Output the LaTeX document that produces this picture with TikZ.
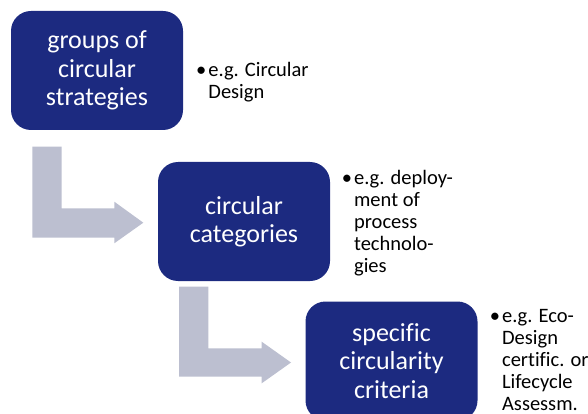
\documentclass[tikz,border=0pt]{standalone}
\usepackage{fontspec}
\setmainfont{Carlito}[Ligatures=CommonOff]
\definecolor{boxblue}{RGB}{28,42,128}
\definecolor{arrowgray}{RGB}{188,191,208}
\tikzset{
  stagebox/.style={draw=none, fill=boxblue, rounded corners=20pt, minimum width=172pt, minimum height=119pt, inner sep=0pt, text=white, align=center, font=\fontsize{26}{28.3}\selectfont},
  notetext/.style={anchor=base west, inner sep=0pt, font=\fontsize{20.5}{22}\selectfont},
  bentarrow/.style={fill=arrowgray, draw=none}
}
\begin{document}
\begin{tikzpicture}[x=1pt,y=-1pt]
\useasboundingbox (0,0) rectangle (588,414);
% bent arrows
\fill[bentarrow] (32.3,146.7) -- (61.7,146.7) -- (61.7,208.3) -- (114.3,208.3) -- (114.3,201.7) -- (143.3,222.7) -- (114.3,243.3) -- (114.3,237.7) -- (32.3,237.7) -- cycle;
\fill[bentarrow] (179,286.7) -- (208.3,286.7) -- (208.3,348.3) -- (261.7,348.3) -- (261.7,341.7) -- (291,362.5) -- (261.7,383.3) -- (261.7,376.7) -- (179,376.7) -- cycle;
% boxes
\node[stagebox] (b1) at (97,70.5) {groups of\\circular\\strategies};
\node[stagebox] (b2) at (244,221.5) {circular\\categories};
\node[stagebox] (b3) at (391.5,361) {specific\\circularity\\criteria};
% notes
\node[notetext] (n1) at (196,76.5) {\begin{tabular}[t]{@{}l@{\hspace{2pt}}l@{}}\textbullet & e.g. Circular\\ & Design\end{tabular}};
\node[notetext] (n2) at (341.7,184.5) {\begin{tabular}[t]{@{}l@{\hspace{2pt}}l@{}}\textbullet & e.g. deploy-\\ & ment of\\ & process\\ & technolo-\\ & gies\end{tabular}};
\node[notetext] (n3) at (489.7,322) {\begin{tabular}[t]{@{}l@{\hspace{2pt}}l@{}}\textbullet & e.g. Eco-\\ & Design\\ & certific. or\\ & Lifecycle\\ & Assessm.\end{tabular}};
\end{tikzpicture}
\end{document}
